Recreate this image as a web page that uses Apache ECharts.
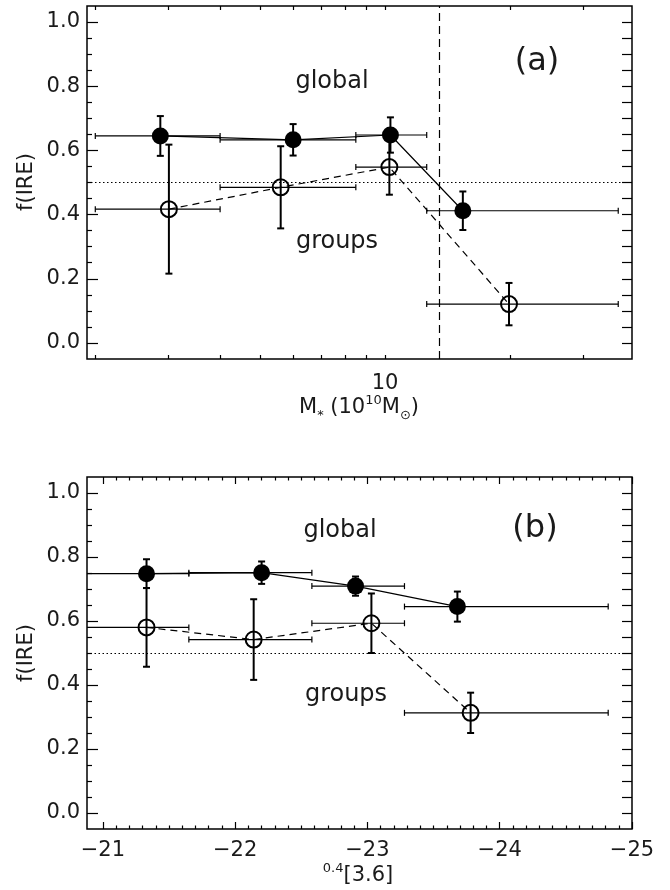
<!DOCTYPE html>
<html>
<head>
<meta charset="utf-8">
<script src="https://cdn.jsdelivr.net/npm/echarts@6/dist/echarts.min.js"></script>
<style>
  html, body { margin: 0; padding: 0; background: #fff; }
  #chart { width: 670px; height: 890px; }
</style>
</head>
<body>
<div id="chart"></div>
<script>
// panel (a): stellar mass, 10^10 Msun
const massGlobal = [2.87, 6.0, 10.3, 15.4];
const fGlobalA = [0.645, 0.633, 0.648, 0.412];
const errGlobalA = [0.062, 0.049, 0.055, 0.060];
const massGroups = [3.01, 5.6, 10.24, 19.9];
const fGroupsA = [0.417, 0.485, 0.548, 0.121];
const errGroupsA = [0.201, 0.128, 0.086, 0.066];
const massBinLo = [2.0, 4.0, 8.5, 12.6];
const massBinHi = [4.0, 8.5, 12.6, 36.5];
const massCut = 13.5;

// panel (b): magnitude
const magGlobal = [-21.33, -22.20, -22.91, -23.68];
const fGlobalB = [0.748, 0.751, 0.709, 0.645];
const errGlobalB = [0.045, 0.035, 0.030, 0.047];
const magGroups = [-21.33, -22.14, -23.03, -23.78];
const fGroupsB = [0.580, 0.542, 0.593, 0.313];
const errGroupsB = [0.123, 0.126, 0.093, 0.063];
const magBinLo = [-20.6, -21.65, -22.58, -23.28];
const magBinHi = [-21.65, -22.58, -23.28, -24.82];

// ticks
const yMajor = [0, 0.2, 0.4, 0.6, 0.8, 1.0];
const yMinor = [0.05, 0.1, 0.15, 0.25, 0.3, 0.35, 0.45, 0.5, 0.55, 0.65, 0.7, 0.75, 0.85, 0.9, 0.95];
const yAll = [0, 0.05, 0.1, 0.15, 0.2, 0.25, 0.3, 0.35, 0.4, 0.45, 0.5, 0.55, 0.6, 0.65, 0.7, 0.75, 0.8, 0.85, 0.9, 0.95, 1.0];
const massTicks = [2, 3, 4, 5, 6, 7, 8, 9, 10, 20, 30];
const massLabels = [10];
const magMajor = [-21, -22, -23, -24, -25];
const magMinor = [];
for (let m = 210; m <= 250; m++) if (m % 10 !== 0) magMinor.push(-m / 10);

const FONT = 'DejaVu Sans';
const INK = '#1a1a1a';

const chart = echarts.init(document.getElementById('chart'));

const rows = (x, y, e, lo, hi) => x.map((v, i) => [v, y[i], lo[i], hi[i], y[i] - e[i], y[i] + e[i]]);
const pairs = (x, y) => x.map((v, i) => [v, y[i]]);

function errorBars(params, api) {
  const x = api.value(0), y = api.value(1);
  const left = api.coord([api.value(2), y]);
  const right = api.coord([api.value(3), y]);
  const low = api.coord([x, api.value(4)]);
  const high = api.coord([x, api.value(5)]);
  const thin = { stroke: '#000', lineWidth: 1.2 };
  const thick = { stroke: '#000', lineWidth: 2 };
  const seg = (x1, y1, x2, y2, style) => ({ type: 'line', shape: { x1, y1, x2, y2 }, style });
  return {
    type: 'group',
    children: [
      seg(left[0], left[1], right[0], right[1], thin),
      seg(left[0], left[1] - 3, left[0], left[1] + 3, thin),
      seg(right[0], right[1] - 3, right[0], right[1] + 3, thin),
      seg(low[0], low[1], high[0], high[1], thick),
      seg(low[0] - 3.5, low[1], low[0] + 3.5, low[1], thick),
      seg(high[0] - 3.5, high[1], high[0] + 3.5, high[1], thick)
    ]
  };
}

const labelStyle = { color: INK, fontSize: 21, fontFamily: FONT };

// tick-only axis helper
function tickAxis(gridIndex, position, min, max, ticks, len, extra) {
  return Object.assign({
    type: 'value', gridIndex, position, min, max,
    axisLine: { show: false, onZero: false },
    axisTick: { show: true, inside: true, length: len, customValues: ticks, lineStyle: { color: '#000', width: 1.2 } },
    axisLabel: { show: false },
    splitLine: { show: false }
  }, extra || {});
}

const logMin = 1.91, logMax = 39.4;

const xAxes = [
  // 0: data axis of panel (a)
  { type: 'log', logBase: 10, gridIndex: 0, min: logMin, max: logMax, show: false, axisLine: { onZero: false } },
  // 1,2: log ticks of panel (a)
  tickAxis(0, 'bottom', Math.log10(logMin), Math.log10(logMax), massTicks.map(Math.log10), 4, {
    axisLabel: { show: true, customValues: massLabels.map(Math.log10), margin: 14, formatter: v => String(Math.round(Math.pow(10, v))), ...labelStyle }
  }),
  tickAxis(0, 'top', Math.log10(logMin), Math.log10(logMax), massTicks.map(Math.log10), 4),
  // 3: data axis of panel (b), with major ticks
  tickAxis(1, 'bottom', -25, -20.88, magMajor, 7, {
    inverse: true,
    axisLabel: { show: true, customValues: magMajor, margin: 11, formatter: v => '\u2212' + Math.abs(v), ...labelStyle }
  }),
  tickAxis(1, 'bottom', -25, -20.88, magMinor, 3.5, { inverse: true }),
  tickAxis(1, 'top', -25, -20.88, magMajor, 7, { inverse: true }),
  tickAxis(1, 'top', -25, -20.88, magMinor, 3.5, { inverse: true })
];

const yLabel = { show: true, customValues: yMajor, margin: 7, formatter: v => v.toFixed(1), ...labelStyle };
const yAxes = [
  tickAxis(0, 'left', -0.05, 1.05, yMajor, 11, { axisLabel: yLabel }),
  tickAxis(0, 'left', -0.05, 1.05, yMinor, 5),
  tickAxis(0, 'right', -0.05, 1.05, yAll, 10),
  tickAxis(1, 'left', -0.05, 1.05, yMajor, 11, { axisLabel: yLabel }),
  tickAxis(1, 'left', -0.05, 1.05, yMinor, 5),
  tickAxis(1, 'right', -0.05, 1.05, yAll, 10)
];

function panelSeries(xi, yi, xG, yG, eG, xO, yO, eO, lo, hi, vline) {
  const refLine = {
    silent: true, symbol: ['none', 'none'], label: { show: false },
    lineStyle: { color: '#000', width: 1.2, type: [1.5, 2.5] },
    data: [{ yAxis: 0.5 }]
  };
  if (vline != null) {
    refLine.data.push({ xAxis: vline, lineStyle: { color: '#000', width: 1.2, type: [8, 5] } });
  }
  return [
    {
      type: 'custom', xAxisIndex: xi, yAxisIndex: yi, clip: true, silent: true,
      renderItem: errorBars, encode: { x: 0, y: 1 },
      data: rows(xG, yG, eG, lo, hi), z: 3
    },
    {
      type: 'custom', xAxisIndex: xi, yAxisIndex: yi, clip: true, silent: true,
      renderItem: errorBars, encode: { x: 0, y: 1 },
      data: rows(xO, yO, eO, lo, hi), z: 3
    },
    {
      type: 'line', xAxisIndex: xi, yAxisIndex: yi, data: pairs(xG, yG), showSymbol: false, silent: true,
      lineStyle: { color: '#000', width: 1.2 }, z: 4, markLine: refLine
    },
    {
      type: 'line', xAxisIndex: xi, yAxisIndex: yi, data: pairs(xO, yO), showSymbol: false, silent: true,
      lineStyle: { color: '#000', width: 1.2, type: [7, 5] }, z: 4
    },
    {
      type: 'scatter', xAxisIndex: xi, yAxisIndex: yi, data: pairs(xG, yG), symbol: 'circle', symbolSize: 17,
      itemStyle: { color: '#000', opacity: 1 }, silent: true, z: 5
    },
    {
      type: 'scatter', xAxisIndex: xi, yAxisIndex: yi, data: pairs(xO, yO), symbol: 'circle', symbolSize: 16,
      itemStyle: { color: 'rgba(0,0,0,0)', borderColor: '#000', borderWidth: 2, opacity: 1 }, silent: true, z: 5
    }
  ];
}

function txt(x, y, text, size, extra) {
  return {
    type: 'text', x, y, silent: true,
    style: Object.assign({
      text, fill: INK, fontSize: size, fontFamily: FONT,
      align: 'center', verticalAlign: 'middle', textAlign: 'center', textVerticalAlign: 'middle'
    }, extra || {})
  };
}

const richMain = { fontSize: 21, fontFamily: FONT, fill: INK, color: INK, lineHeight: 28 };
const richSup = { fontSize: 13, fontFamily: FONT, fill: INK, color: INK, lineHeight: 13, verticalAlign: 'top' };
const richSub = { fontSize: 13, fontFamily: FONT, fill: INK, color: INK, lineHeight: 13, verticalAlign: 'bottom' };

const option = {
  animation: false,
  backgroundColor: '#fff',
  grid: [
    { left: 87, top: 6, width: 545, height: 353, show: true, borderColor: '#000', borderWidth: 1.5, backgroundColor: 'transparent', outerBoundsMode: 'none' },
    { left: 87, top: 477, width: 545, height: 352, show: true, borderColor: '#000', borderWidth: 1.5, backgroundColor: 'transparent', outerBoundsMode: 'none' }
  ],
  xAxis: xAxes,
  yAxis: yAxes,
  series: [
    ...panelSeries(0, 0, massGlobal, fGlobalA, errGlobalA, massGroups, fGroupsA, errGroupsA, massBinLo, massBinHi, massCut),
    ...panelSeries(3, 3, magGlobal, fGlobalB, errGlobalB, magGroups, fGroupsB, errGroupsB, magBinLo, magBinHi, null)
  ],
  graphic: [
    txt(332, 82, 'global', 24),
    txt(337, 242, 'groups', 24),
    txt(537, 62, '(a)', 32),
    txt(340, 531, 'global', 24),
    txt(346, 695, 'groups', 24),
    txt(535, 529, '(b)', 32),
    Object.assign(txt(27, 182, 'f(IRE)', 21), { rotation: Math.PI / 2 }),
    Object.assign(txt(27, 653, 'f(IRE)', 21), { rotation: Math.PI / 2 }),
    txt(359, 408, '{m|M}{s|*} {m|(10}{p|10}{m|M}{s|\u2299}{m|)}', 21, { rich: { m: richMain, p: richSup, s: richSub } }),
    txt(358, 876, '{p|0.4}{m|[3.6]}', 21, { rich: { m: richMain, p: richSup } })
  ]
};

chart.setOption(option);
</script>
</body>
</html>
